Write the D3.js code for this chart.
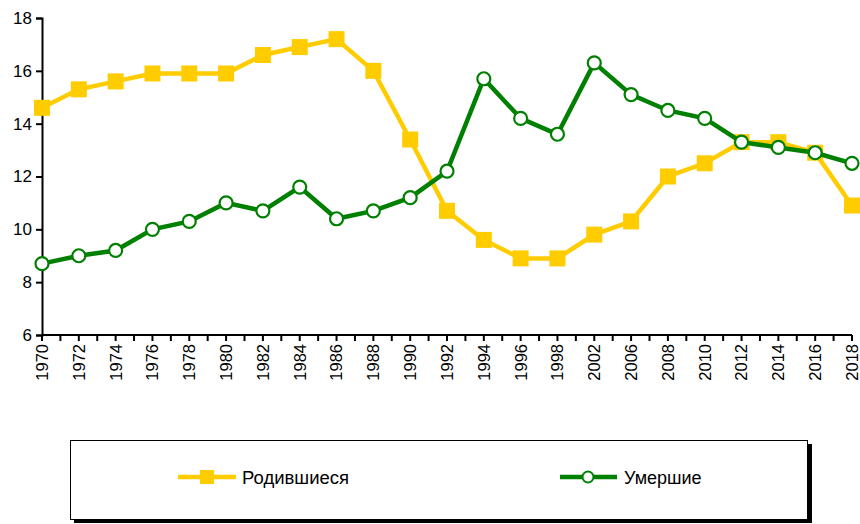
<!DOCTYPE html>
<html>
<head>
<meta charset="utf-8">
<script src="https://cdn.jsdelivr.net/npm/d3@7"></script>
<style>
  body { margin: 0; background: #fff; }
  svg { font-family: "Liberation Sans", Arial, sans-serif; }
</style>
</head>
<body>
<div id="chart"></div>
<script>
var years = ["1970", "1972", "1974", "1976", "1978", "1980", "1982", "1984", "1986", "1988", "1990", "1992",
    "1994", "1996", "1998", "2002", "2006", "2008", "2010", "2012", "2014", "2016", "2018"];
var births = [14.6, 15.3, 15.6, 15.9, 15.9, 15.9, 16.6, 16.9, 17.2, 16.0, 13.4, 10.7,
    9.6, 8.9, 8.9, 9.8, 10.3, 12.0, 12.5, 13.3, 13.3, 12.9, 10.9];
var deaths = [8.7, 9.0, 9.2, 10.0, 10.3, 11.0, 10.7, 11.6, 10.4, 10.7, 11.2, 12.2,
    15.7, 14.2, 13.6, 16.3, 15.1, 14.5, 14.2, 13.3, 13.1, 12.9, 12.5];
var yTicks = [6, 8, 10, 12, 14, 16, 18];
var seriesNames = ["Родившиеся", "Умершие"];

var width = 860, height = 524;
var margins = { top: 18, right: 8, bottom: 189, left: 42 };

var svg = d3.select('#chart').append('svg')
    .attr('width', width)
    .attr('height', height);

var xScale = d3.scalePoint()
    .domain(years)
    .range([margins.left, 852]);
var step = xScale.step();

var yScale = d3.scaleLinear()
    .domain([6, 18])
    .range([height - margins.bottom, margins.top]);

// y axis
var yAxis = d3.axisLeft(yScale)
    .tickValues(yTicks)
    .tickSize(6)
    .tickPadding(4);
var gy = svg.append('g')
    .attr('transform', 'translate(' + margins.left + ',0)')
    .call(yAxis);
gy.select('.domain').attr('stroke', '#000').attr('stroke-width', 2);
gy.selectAll('.tick line').attr('stroke', '#000').attr('stroke-width', 2);
gy.selectAll('.tick text').attr('font-size', 17).attr('fill', '#000');

// x axis (ticks at every category and half-way between)
var baseY = yScale(6);
var gx = svg.append('g').attr('transform', 'translate(0,' + baseY + ')');
gx.append('line')
    .attr('x1', margins.left).attr('x2', xScale('2018'))
    .attr('stroke', '#000').attr('stroke-width', 2);
var halfTicks = d3.range(years.length * 2 - 1).map(function (i) {
    return xScale(years[0]) + i * step / 2;
});
gx.selectAll('line.tk')
    .data(halfTicks)
    .enter().append('line')
    .attr('class', 'tk')
    .attr('x1', function (d) { return d; })
    .attr('x2', function (d) { return d; })
    .attr('y1', 0).attr('y2', 6)
    .attr('stroke', '#000').attr('stroke-width', 2);
gx.selectAll('text')
    .data(years)
    .enter().append('text')
    .attr('transform', function (d) { return 'translate(' + xScale(d) + ',9) rotate(-90)'; })
    .attr('text-anchor', 'end')
    .attr('dy', '0.36em')
    .attr('font-size', 16.5)
    .attr('fill', '#000')
    .text(function (d) { return d; });

var line = d3.line()
    .x(function (d, i) { return xScale(years[i]); })
    .y(function (d) { return yScale(d); });

// births
svg.append('path')
    .datum(births)
    .attr('d', line)
    .attr('fill', 'none')
    .attr('stroke', '#FFCC00')
    .attr('stroke-width', 4.5);
svg.selectAll('rect.b')
    .data(births)
    .enter().append('rect')
    .attr('class', 'b')
    .attr('x', function (d, i) { return xScale(years[i]) - 8; })
    .attr('y', function (d) { return yScale(d) - 8; })
    .attr('width', 16).attr('height', 16)
    .attr('fill', '#FFCC00');

// deaths
svg.append('path')
    .datum(deaths)
    .attr('d', line)
    .attr('fill', 'none')
    .attr('stroke', '#008000')
    .attr('stroke-width', 4.5);
svg.selectAll('circle.d')
    .data(deaths)
    .enter().append('circle')
    .attr('class', 'd')
    .attr('cx', function (d, i) { return xScale(years[i]); })
    .attr('cy', function (d) { return yScale(d); })
    .attr('r', 6.5)
    .attr('fill', '#fff')
    .attr('stroke', '#008000')
    .attr('stroke-width', 2.2);

// legend
var lg = svg.append('g');
lg.append('rect')
    .attr('x', 74).attr('y', 444).attr('width', 738).attr('height', 79)
    .attr('fill', '#000');
lg.append('rect')
    .attr('x', 70.5).attr('y', 440.5).attr('width', 737).attr('height', 79)
    .attr('fill', '#fff').attr('stroke', '#000').attr('stroke-width', 1);

var ly = 477;
lg.append('line').attr('x1', 178).attr('x2', 236).attr('y1', ly).attr('y2', ly)
    .attr('stroke', '#FFCC00').attr('stroke-width', 4.5);
lg.append('rect').attr('x', 200).attr('y', ly - 7).attr('width', 14).attr('height', 14)
    .attr('fill', '#FFCC00');
lg.append('text').attr('x', 242).attr('y', ly + 7).attr('font-size', 18).attr('fill', '#000')
    .attr('textLength', 107).attr('lengthAdjust', 'spacingAndGlyphs')
    .text(seriesNames[0]);

lg.append('line').attr('x1', 560).attr('x2', 617).attr('y1', ly).attr('y2', ly)
    .attr('stroke', '#008000').attr('stroke-width', 4.5);
lg.append('circle').attr('cx', 588).attr('cy', ly).attr('r', 5.5)
    .attr('fill', '#fff').attr('stroke', '#008000').attr('stroke-width', 2);
lg.append('text').attr('x', 624).attr('y', ly + 7).attr('font-size', 18).attr('fill', '#000')
    .text(seriesNames[1]);
</script>
</body>
</html>
